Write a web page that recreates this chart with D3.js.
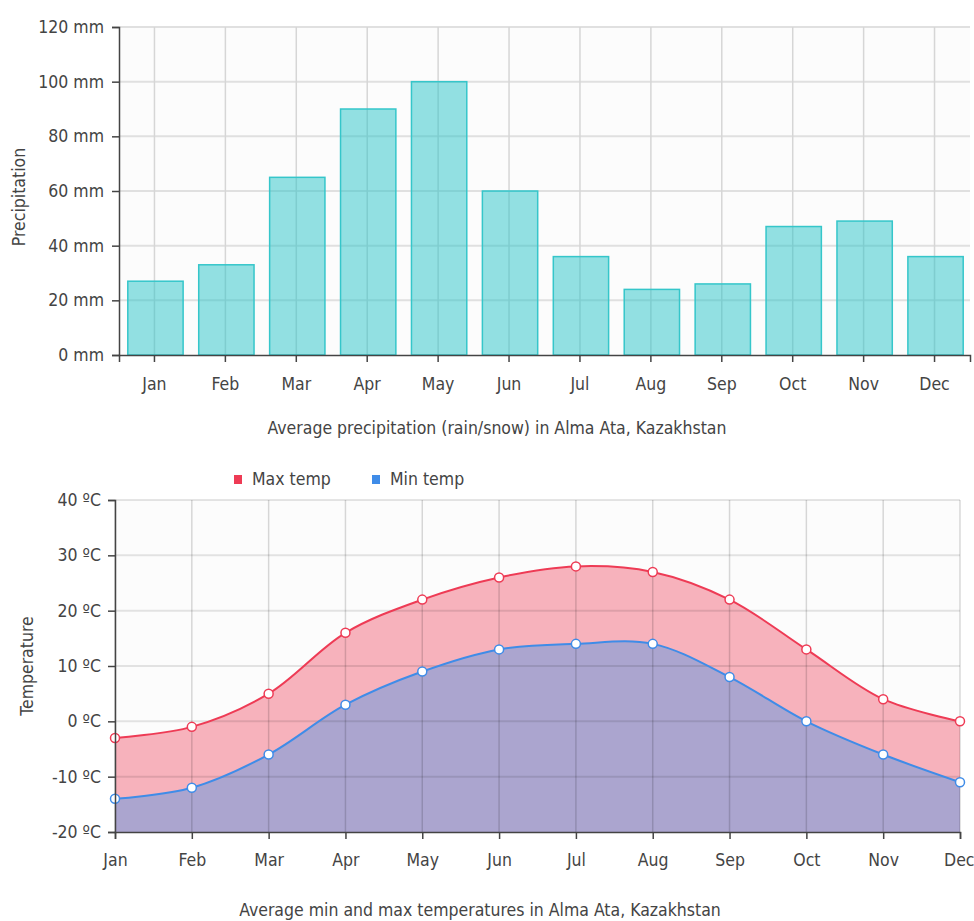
<!DOCTYPE html>
<html>
<head>
<meta charset="utf-8">
<script src="https://cdn.jsdelivr.net/npm/d3@7"></script>
<style>
  html, body { margin: 0; padding: 0; background: #ffffff; }
  svg text { font-family: "DejaVu Sans Condensed", "DejaVu Sans", sans-serif; fill: #444; }
</style>
</head>
<body>
<svg id="chart" width="974" height="921"></svg>
<script>
const months = ["Jan","Feb","Mar","Apr","May","Jun","Jul","Aug","Sep","Oct","Nov","Dec"];
const precipitation = [27, 33, 65, 90, 100, 60, 36, 24, 26, 47, 49, 36];
const maxTemp = [-3, -1, 5, 16, 22, 26, 28, 27, 22, 13, 4, 0];
const minTemp = [-14, -12, -6, 3, 9, 13, 14, 14, 8, 0, -6, -11];
const precipTicks = [0, 20, 40, 60, 80, 100, 120];
const tempTicks = [-20, -10, 0, 10, 20, 30, 40];
const seriesNames = ["Max temp", "Min temp"];

const svg = d3.select("#chart");
const FS = 17.5;
const FF = "DejaVu Sans Condensed, DejaVu Sans, sans-serif";

// ---------- Top chart: precipitation ----------
const t = { left: 119, right: 970, top: 27, bottom: 355 };
const x1 = d3.scaleBand().domain(months).range([t.left, t.right]).paddingInner(0.22).paddingOuter(0.11);
const y1 = d3.scaleLinear().domain([0, 120]).range([t.bottom, t.top]);
const xc1 = m => x1(m) + x1.bandwidth() / 2;

const g1 = svg.append("g");
g1.append("rect").attr("x", t.left).attr("y", t.top).attr("width", t.right - t.left).attr("height", t.bottom - t.top).attr("fill", "#fcfcfc");
g1.selectAll("line.hg").data(precipTicks.slice(1)).join("line")
  .attr("x1", t.left).attr("x2", t.right).attr("y1", d => y1(d)).attr("y2", d => y1(d))
  .attr("stroke", "#e0e0e0").attr("stroke-width", 2);
g1.selectAll("line.vg").data(months).join("line")
  .attr("x1", d => xc1(d)).attr("x2", d => xc1(d)).attr("y1", t.top).attr("y2", t.bottom)
  .attr("stroke", "#d6d6d6").attr("stroke-width", 1.5);
g1.selectAll("rect.bar").data(precipitation).join("rect")
  .attr("x", (d, i) => x1(months[i]) + 1).attr("width", x1.bandwidth())
  .attr("y", d => y1(d)).attr("height", d => y1(0) - y1(d))
  .attr("fill", "rgba(40,195,200,0.5)").attr("stroke", "#35c6ca").attr("stroke-width", 1.5);

const ya1 = g1.append("g").attr("transform", `translate(${t.left},0)`)
  .call(d3.axisLeft(y1).tickValues(precipTicks).tickFormat(d => d + " mm").tickSize(7).tickPadding(8));
const xa1 = g1.append("g").attr("transform", `translate(0,${t.bottom})`)
  .call(d3.axisBottom(x1).tickSize(7).tickPadding(16));
[ya1, xa1].forEach(a => {
  a.select(".domain").attr("stroke", "#444").attr("stroke-width", 1.5);
  a.selectAll(".tick line").attr("stroke", "#444").attr("stroke-width", 1.5);
  a.selectAll("text").attr("font-size", FS).attr("fill", "#444").attr("font-family", FF);
});
g1.append("text").attr("transform", "translate(25,197) rotate(-90)").attr("text-anchor", "middle")
  .attr("font-size", FS).text("Precipitation");
g1.append("text").attr("x", 497).attr("y", 434).attr("text-anchor", "middle")
  .attr("font-size", FS).text("Average precipitation (rain/snow) in Alma Ata, Kazakhstan");

// ---------- Bottom chart: temperature ----------
const b = { left: 115, right: 960, top: 500, bottom: 832 };
const x2 = d3.scalePoint().domain(months).range([b.left, b.right]);
const y2 = d3.scaleLinear().domain([-20, 40]).range([b.bottom, b.top]);

const g2 = svg.append("g");
g2.append("rect").attr("x", b.left).attr("y", b.top).attr("width", b.right - b.left).attr("height", b.bottom - b.top).attr("fill", "#fcfcfc");

const curve = d3.curveCatmullRom.alpha(0.5);
const area = d3.area().x((d, i) => x2(months[i])).y0(y2(-20)).y1(d => y2(d)).curve(curve);
const line = d3.line().x((d, i) => x2(months[i])).y(d => y2(d)).curve(curve);

g2.append("path").datum(maxTemp).attr("d", area).attr("fill", "rgba(242,80,105,0.43)");
g2.append("path").datum(minTemp).attr("d", area).attr("fill", "rgba(85,150,230,0.47)");

g2.selectAll("line.hg").data(tempTicks.slice(1)).join("line")
  .attr("x1", b.left).attr("x2", b.right).attr("y1", d => y2(d)).attr("y2", d => y2(d))
  .attr("stroke", "rgba(0,0,0,0.1)").attr("stroke-width", 2);
g2.selectAll("line.vg").data(months).join("line")
  .attr("x1", d => x2(d)).attr("x2", d => x2(d)).attr("y1", b.top).attr("y2", b.bottom)
  .attr("stroke", "rgba(0,0,0,0.15)").attr("stroke-width", 1.5);

g2.append("path").datum(maxTemp).attr("d", line).attr("fill", "none").attr("stroke", "#ee3b55").attr("stroke-width", 2);
g2.append("path").datum(minTemp).attr("d", line).attr("fill", "none").attr("stroke", "#3f8ce8").attr("stroke-width", 2);

g2.selectAll("circle.max").data(maxTemp).join("circle")
  .attr("cx", (d, i) => x2(months[i])).attr("cy", d => y2(d)).attr("r", 4.5)
  .attr("fill", "#fff").attr("stroke", "#ee3b55").attr("stroke-width", 1.5);
g2.selectAll("circle.min").data(minTemp).join("circle")
  .attr("cx", (d, i) => x2(months[i])).attr("cy", d => y2(d)).attr("r", 4.5)
  .attr("fill", "#fff").attr("stroke", "#3f8ce8").attr("stroke-width", 1.5);

const ya2 = g2.append("g").attr("transform", `translate(${b.left},0)`)
  .call(d3.axisLeft(y2).tickValues(tempTicks).tickFormat(d => d + " ºC").tickSize(7).tickPadding(7));
const xa2 = g2.append("g").attr("transform", `translate(0,${b.bottom})`)
  .call(d3.axisBottom(x2).tickSize(7).tickPadding(15));
[ya2, xa2].forEach(a => {
  a.select(".domain").attr("stroke", "#444").attr("stroke-width", 1.5);
  a.selectAll(".tick line").attr("stroke", "#444").attr("stroke-width", 1.5);
  a.selectAll("text").attr("font-size", FS).attr("fill", "#444").attr("font-family", FF);
});
// keep the last month label inside the picture
xa2.selectAll(".tick text").filter(d => d === "Dec").attr("text-anchor", "end").attr("dx", 14);
g2.append("text").attr("transform", "translate(33,666) rotate(-90)").attr("text-anchor", "middle")
  .attr("font-size", FS).text("Temperature");
g2.append("text").attr("x", 480).attr("y", 916).attr("text-anchor", "middle")
  .attr("font-size", FS).text("Average min and max temperatures in Alma Ata, Kazakhstan");

// legend
const legendColors = ["#ee3b55", "#3f8ce8"];
const legendX = [238, 376];
const lg = g2.selectAll("g.legend").data(seriesNames).join("g").attr("transform", (d, i) => `translate(${legendX[i]},479)`);
lg.append("rect").attr("x", -4).attr("y", -4).attr("width", 8).attr("height", 9).attr("fill", (d, i) => legendColors[i]);
lg.append("text").attr("x", 14).attr("y", 6).attr("font-size", FS).text(d => d);
</script>
</body>
</html>
